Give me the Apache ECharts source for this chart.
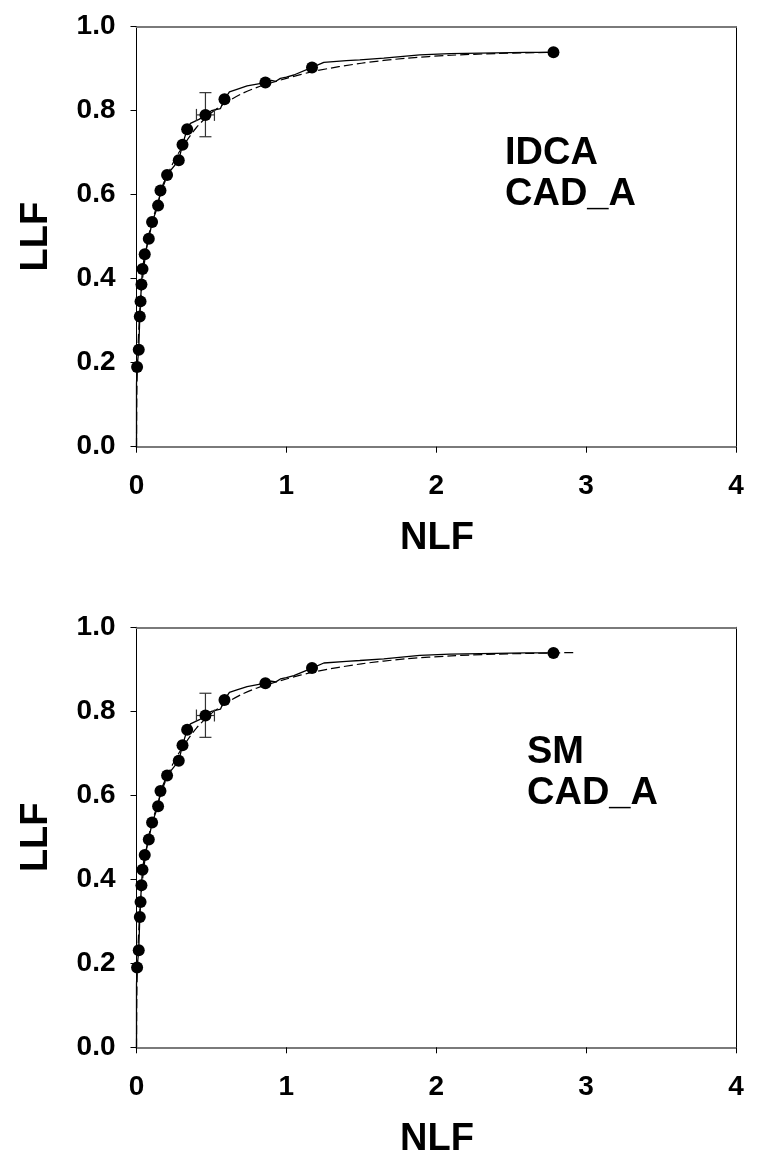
<!DOCTYPE html>
<html>
<head>
<meta charset="utf-8">
<script src="https://cdn.jsdelivr.net/npm/echarts@6/dist/echarts.min.js"></script>
<style>
html,body{margin:0;padding:0;background:#fff;}
#chart{width:768px;height:1171px;}
</style>
</head>
<body>
<div id="chart"></div>
<script>
// ---- data ----
var xTicks = [0, 1, 2, 3, 4];
var yTicks = [0.0, 0.2, 0.4, 0.6, 0.8, 1.0];

// operating points (filled circles)
var ptX = [0.004, 0.015, 0.022, 0.027, 0.033, 0.040, 0.055, 0.082, 0.104, 0.144, 0.160, 0.204, 0.282, 0.307, 0.338, 0.460, 0.587, 0.860, 1.171, 2.782];
var ptY = [0.190, 0.231, 0.310, 0.346, 0.386, 0.423, 0.458, 0.495, 0.535, 0.574, 0.610, 0.647, 0.682, 0.719, 0.756, 0.790, 0.827, 0.867, 0.903, 0.939];

// empirical (solid, stepped) curve
var stepX = [0, 0.000, 0.004, 0.015, 0.022, 0.027, 0.033, 0.040, 0.055, 0.082, 0.104, 0.144, 0.160, 0.204, 0.282, 0.307, 0.338, 0.360, 0.420, 0.460, 0.500, 0.560, 0.587, 0.620, 0.670, 0.738, 0.860, 0.900, 0.930, 0.960, 1.000, 1.050, 1.171, 1.250, 1.400, 1.490, 1.650, 1.890, 2.090, 2.600, 2.782];
var stepY = [0, 0.150, 0.190, 0.231, 0.310, 0.346, 0.386, 0.423, 0.458, 0.495, 0.535, 0.574, 0.610, 0.647, 0.682, 0.719, 0.756, 0.770, 0.780, 0.790, 0.800, 0.805, 0.827, 0.845, 0.851, 0.859, 0.867, 0.872, 0.870, 0.877, 0.880, 0.885, 0.903, 0.915, 0.919, 0.921, 0.925, 0.933, 0.936, 0.939, 0.939];

// fitted (dashed) curve
var fitX = [0, 0.002, 0.005, 0.010, 0.020, 0.030, 0.050, 0.080, 0.100, 0.150, 0.200, 0.250, 0.300, 0.400, 0.500, 0.600, 0.700, 0.800, 1.000, 1.200, 1.500, 1.800, 2.100, 2.400, 2.782];
var fitY = [0, 0.120, 0.180, 0.240, 0.310, 0.360, 0.430, 0.500, 0.530, 0.590, 0.640, 0.680, 0.710, 0.760, 0.795, 0.820, 0.840, 0.855, 0.877, 0.895, 0.913, 0.925, 0.932, 0.936, 0.939];
var fitExtX = [2.782, 2.930];   // lower panel: dashed curve runs on
var fitExtY = [0.939, 0.940];

// error bars: [x, y, yLow, yHigh, xLow, xHigh]
var errBar = [0.46, 0.79, 0.738, 0.843, 0.40, 0.52];

var panelTitles = [['IDCA', 'CAD_A'], ['SM', 'CAD_A']];
var xName = 'NLF', yName = 'LLF';

// ---- build ----
function zip(a, b) { return a.map(function (v, i) { return [v, b[i]]; }); }

var FONT = '"Liberation Sans", Arial, sans-serif';
var gridTops = [26.7, 627.3];
var grids = [], xAxes = [], yAxes = [], series = [], graphics = [];

gridTops.forEach(function (top, p) {
  grids.push({ left: 136.5, width: 599.5, top: top, height: 420, containLabel: false });
  xAxes.push({
    gridIndex: p, type: 'value', min: xTicks[0], max: xTicks[xTicks.length - 1], interval: 1, position: 'bottom',
    axisLine: { show: true, onZero: false, lineStyle: { color: '#7a7a7a', width: 2 } },
    axisTick: { show: true, inside: false, length: 6, lineStyle: { color: '#000', width: 1 } },
    axisLabel: { show: true, margin: 26, fontFamily: FONT, fontWeight: 'bold', fontSize: 28, color: '#000' },
    splitLine: { show: false }
  });
  xAxes.push({
    gridIndex: p, type: 'value', min: xTicks[0], max: xTicks[xTicks.length - 1], interval: 1, position: 'top',
    axisLine: { show: true, onZero: false, lineStyle: { color: '#7a7a7a', width: 2 } },
    axisTick: { show: false }, axisLabel: { show: false }, splitLine: { show: false }
  });
  yAxes.push({
    gridIndex: p, type: 'value', min: yTicks[0], max: yTicks[yTicks.length - 1], interval: 0.2, position: 'left',
    axisLine: { show: true, onZero: false, lineStyle: { color: '#000', width: 1 } },
    axisTick: { show: true, inside: false, length: 6, lineStyle: { color: '#000', width: 1 } },
    axisLabel: { show: true, margin: 21, fontFamily: FONT, fontWeight: 'bold', fontSize: 28, color: '#000',
      formatter: function (v) { return v.toFixed(1); } },
    splitLine: { show: false }
  });
  yAxes.push({
    gridIndex: p, type: 'value', min: yTicks[0], max: yTicks[yTicks.length - 1], interval: 0.2, position: 'right',
    axisLine: { show: true, onZero: false, lineStyle: { color: '#000', width: 1 } },
    axisTick: { show: false }, axisLabel: { show: false }, splitLine: { show: false }
  });

  var xi = p * 2, yi = p * 2;
  var fitData = zip(fitX, fitY);
  if (p === 1) fitData = fitData.concat(zip(fitExtX, fitExtY).slice(1));

  series.push({
    type: 'line', xAxisIndex: xi, yAxisIndex: yi, data: fitData, smooth: 0.3,
    showSymbol: false, symbol: 'none', silent: true, animation: false,
    lineStyle: { color: '#000', width: 1.2, type: [9, 4] }, z: 2
  });
  series.push({
    type: 'line', xAxisIndex: xi, yAxisIndex: yi, data: zip(stepX, stepY),
    showSymbol: false, symbol: 'none', silent: true, animation: false,
    lineStyle: { color: '#000', width: 1.3 }, z: 3
  });
  series.push({
    type: 'custom', xAxisIndex: xi, yAxisIndex: yi, data: [errBar], animation: false, silent: true, z: 4,
    renderItem: function (params, api) {
      var t = api.coord([api.value(0), api.value(3)]);
      var b = api.coord([api.value(0), api.value(2)]);
      var l = api.coord([api.value(4), api.value(1)]);
      var r = api.coord([api.value(5), api.value(1)]);
      var cap = 6;
      var st = { stroke: '#333', lineWidth: 1.2, fill: null };
      function ln(x1, y1, x2, y2) { return { type: 'line', shape: { x1: x1, y1: y1, x2: x2, y2: y2 }, style: st }; }
      return { type: 'group', children: [
        ln(t[0], t[1], b[0], b[1]),
        ln(t[0] - cap, t[1], t[0] + cap, t[1]),
        ln(b[0] - cap, b[1], b[0] + cap, b[1]),
        ln(l[0], l[1], r[0], r[1]),
        ln(l[0], l[1] - cap, l[0], l[1] + cap),
        ln(r[0], r[1] - cap, r[0], r[1] + cap)
      ] };
    }
  });
  series.push({
    type: 'scatter', xAxisIndex: xi, yAxisIndex: yi, data: zip(ptX, ptY),
    symbol: 'circle', symbolSize: 12, itemStyle: { color: '#000', opacity: 1 }, silent: true, animation: false, z: 5
  });

  // axis names
  graphics.push({ type: 'text', x: 437, y: top + 512, style: {
    text: xName, font: 'bold 38px ' + FONT, fill: '#000', textAlign: 'center', textVerticalAlign: 'middle' } });
  graphics.push({ type: 'text', x: 37, y: top + 210, rotation: Math.PI / 2, style: {
    text: yName, font: 'bold 38px ' + FONT, fill: '#000', textAlign: 'center', textVerticalAlign: 'middle' } });
});

// panel labels
var labelPos = [[505, 154, 195], [527, 753, 794]];
panelTitles.forEach(function (lines, p) {
  lines.forEach(function (t, k) {
    graphics.push({ type: 'text', x: labelPos[p][0], y: labelPos[p][1 + k], style: {
      text: t, font: 'bold 38px ' + FONT, fill: '#000', textAlign: 'left', textVerticalAlign: 'middle' } });
  });
});

var chart = echarts.init(document.getElementById('chart'), null, { renderer: 'canvas' });
chart.setOption({
  animation: false,
  backgroundColor: '#fff',
  grid: grids, xAxis: xAxes, yAxis: yAxes, series: series, graphic: graphics
});
</script>
</body>
</html>
